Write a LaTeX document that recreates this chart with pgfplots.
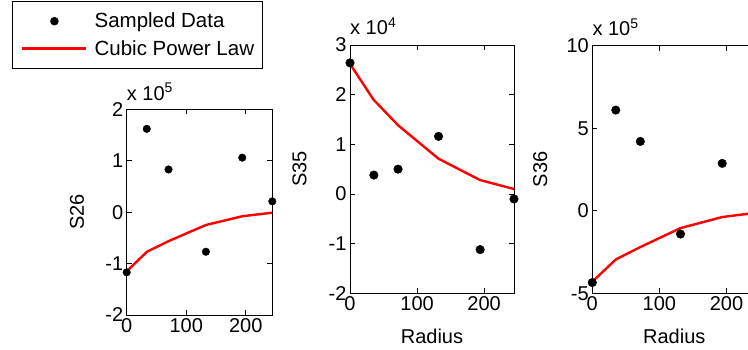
\documentclass[border=0pt]{standalone}
\usepackage{pgfplots}
\pgfplotsset{compat=1.18}
\usepackage{fontspec}
\setmainfont{Liberation Sans}
\pgfplotsset{
  mat/.style={
    scale only axis, anchor=south west, clip=false,
    axis line style={line width=0.9pt, black},
    every tick/.style={line width=0.9pt, black},
    tick align=inside, major tick length=5pt,
    xmin=0, xmax=244.5, xtick={0,100,200}, xticklabels={0,100,200},
    font=\fontsize{20}{23}\selectfont,
    xlabel style={at={(axis description cs:0.5,0)}, anchor=north, yshift=-32pt},
  },
  samp/.style={only marks, mark=*, mark size=4.3pt, black, mark options={fill=black}},
  fit/.style={red, line width=2.4pt, no marks},
}
\begin{document}
\begin{tikzpicture}
\path[use as bounding box] (0pt,0pt) rectangle (748pt,350pt);
\clip (0pt,0pt) rectangle (748pt,350pt);
% ---- S26
\begin{axis}[mat, at={(126.7pt,35pt)}, width=145.6pt, height=205.7pt,
  ymin=-2, ymax=2, ytick={-2,-1,0,1,2}, yticklabels={-2,-1,0,1,2},
  ylabel={S26}, ylabel style={at={(axis description cs:-0.268,0.5)}, anchor=south},
  legend style={at={(axis description cs:-0.788,1.195)}, anchor=south west,
    draw=black, line width=0.9pt, fill=white, legend cell align=left,
    font=\fontsize{20.5}{23}\selectfont, column sep=4pt,
    inner xsep=5pt, inner ysep=6.5pt,
    nodes={inner ysep=5.5pt, inner xsep=3pt}},
  legend image code/.code={\path[draw=none,fill=none] (0pt,0pt) -- (1pt,0pt);
    \draw[mark repeat=2,mark phase=2,#1] plot coordinates {(5pt,0pt) (37pt,0pt) (69pt,0pt)};},
]
\addplot[samp, mark size=3.8pt] coordinates {(0,-1.17) (33.7,1.62) (70.2,0.83) (133,-0.77) (194,1.06) (244.5,0.21)};
\addlegendentry{Sampled Data}
\addplot[fit] coordinates {(0,-1.15) (34,-0.77) (71,-0.56) (133,-0.25) (194,-0.08) (244.5,-0.01)};
\addlegendentry{Cubic Power Law}
\node[anchor=base west, inner sep=0pt] at ([yshift=9pt]rel axis cs:0,1) {x 10\textsuperscript{5}};
\end{axis}
% ---- S35
\begin{axis}[mat, at={(350pt,56.7pt)}, width=164pt, height=248.3pt,
  ymin=-2, ymax=3, ytick={-2,-1,0,1,2,3}, yticklabels={-2,-1,0,1,2,3},
  ylabel={S35}, ylabel style={at={(axis description cs:-0.244,0.5)}, anchor=south}, xlabel={Radius}]
\addplot[samp] coordinates {(0,2.64) (35.6,0.38) (71.6,0.5) (132,1.16) (194,-1.12) (244.5,-0.1)};
\addplot[fit] coordinates {(0,2.62) (35,1.9) (72,1.38) (132,0.71) (194,0.28) (244.5,0.1)};
\node[anchor=base west, inner sep=0pt] at ([yshift=10pt]rel axis cs:0,1) {x 10\textsuperscript{4}};
\end{axis}
% ---- S36
\begin{axis}[mat, at={(592.3pt,56.7pt)}, width=164pt, height=247.6pt,
  ymin=-5, ymax=10, ytick={-5,0,5,10}, yticklabels={-5,0,5,10},
  ylabel={S36}, ylabel style={at={(axis description cs:-0.252,0.5)}, anchor=south}, xlabel={Radius}]
\addplot[samp] coordinates {(0,-4.35) (35,6.1) (71.6,4.2) (131.5,-1.41) (193.7,2.87) (244.5,1.0)};
\addplot[fit] coordinates {(0,-4.3) (35,-2.95) (71.6,-2.2) (131.5,-1.05) (193.7,-0.38) (244.5,-0.12)};
\node[anchor=base west, inner sep=0pt] at ([yshift=10pt]rel axis cs:0,1) {x 10\textsuperscript{5}};
\end{axis}
\end{tikzpicture}
\end{document}
